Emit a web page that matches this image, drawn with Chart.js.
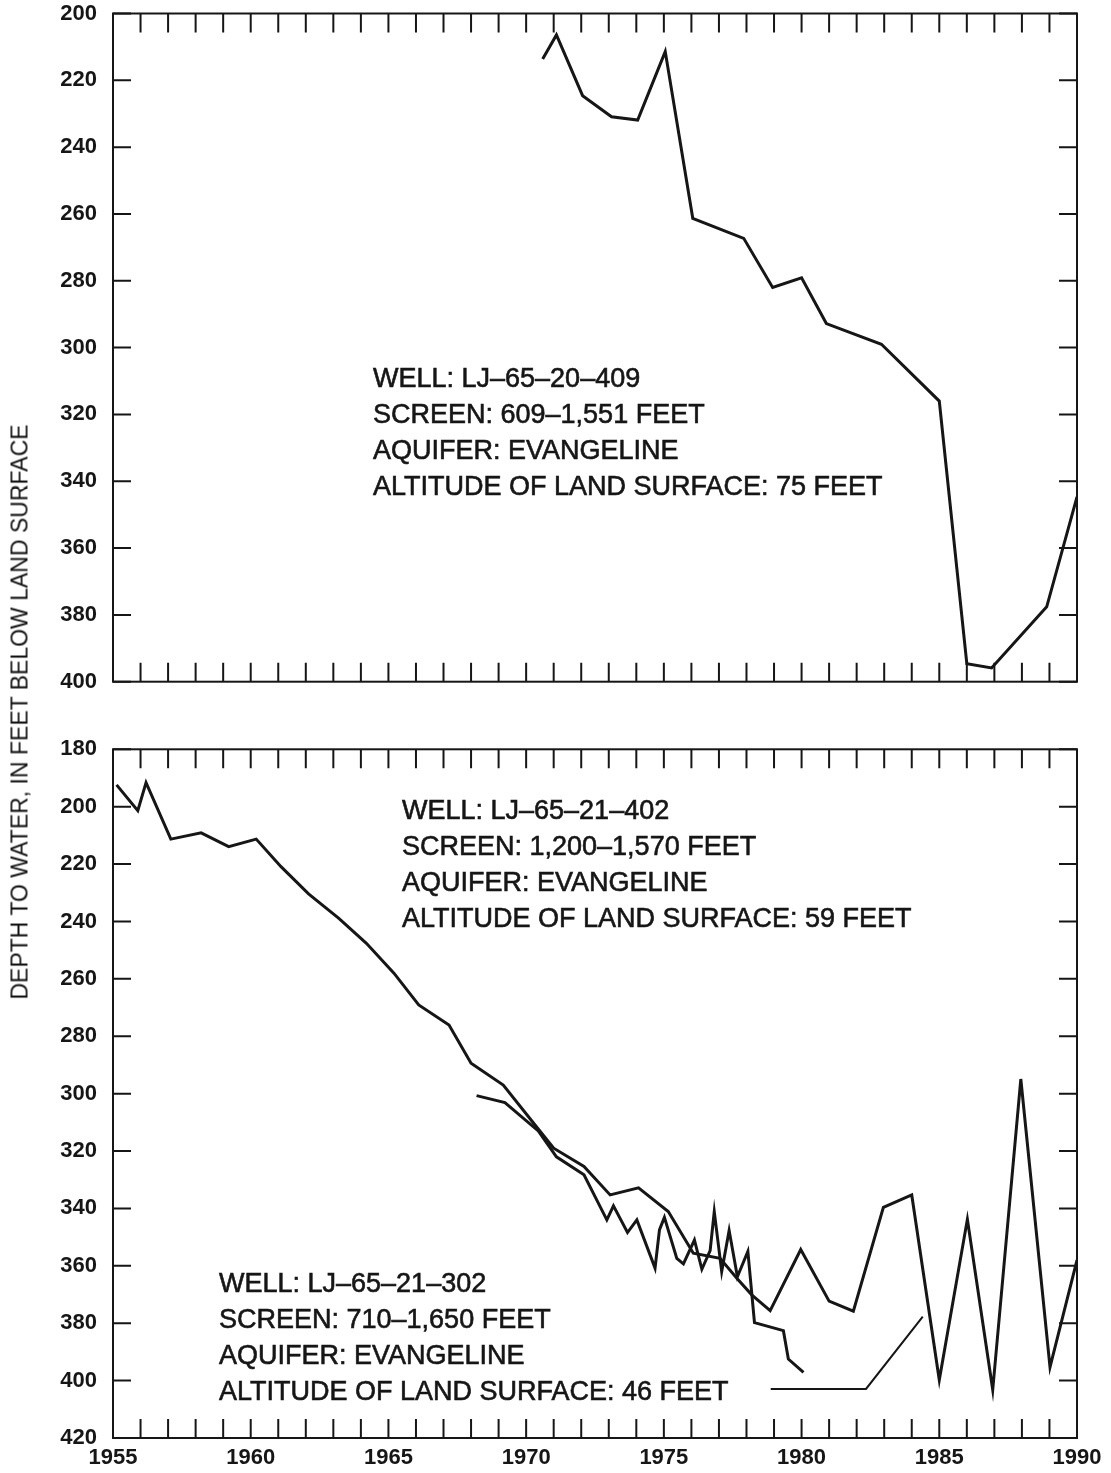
<!DOCTYPE html>
<html>
<head>
<meta charset="utf-8">
<script src="https://cdn.jsdelivr.net/npm/chart.js@4.4.1/dist/chart.umd.min.js"></script>
<style>
  html, body { margin: 0; padding: 0; background: #fff; }
  body { width: 1111px; height: 1473px; position: relative; overflow: hidden; }
  canvas { position: absolute; left: 0; }
  #topChart { top: -20px; }
  #bottomChart { top: 700px; }
  #ytitle {
    position: absolute; left: 20px; top: 712px;
    transform: translate(-50%, -50%) rotate(-90deg);
    white-space: nowrap; font: 23px "Liberation Sans", Arial, sans-serif; color: #111;
  }
</style>
</head>
<body>
<canvas id="topChart" width="1111" height="740"></canvas>
<canvas id="bottomChart" width="1111" height="773"></canvas>
<div id="ytitle">DEPTH TO WATER, IN FEET BELOW LAND SURFACE</div>
<script>
// well LJ-65-20-409 (upper panel)
var well409Years = [1970.6, 1971.1, 1972.05, 1973.1, 1974.05, 1975.05, 1976.05, 1977.9, 1978.95, 1980.0, 1980.9, 1982.9, 1985.0, 1986.0, 1986.9, 1988.9, 1990.0];
var well409Depth = [213.6, 206.4, 224.6, 230.9, 231.9, 211.4, 261.3, 267.3, 282.0, 279.1, 292.8, 299.0, 316.0, 394.6, 395.9, 377.6, 344.7];

// well LJ-65-21-402 (lower panel, long record)
var well402Years = [1955.13, 1955.9, 1956.2, 1957.1, 1958.2, 1959.2, 1960.2, 1961.1, 1962.1, 1963.2, 1964.2, 1965.2, 1966.1, 1967.2, 1968.0, 1969.17, 1970.44, 1971.0, 1972.1, 1973.05, 1974.08, 1975.16, 1976.07, 1977.04, 1977.65, 1978.19, 1978.86, 1979.97, 1981.0, 1981.88, 1982.97, 1984.0, 1985.0, 1986.02, 1986.94, 1987.96, 1989.02, 1990.0];
var well402Depth = [192.4, 201.4, 191.6, 211.3, 209.1, 213.9, 211.3, 220.9, 230.4, 238.9, 247.6, 258.0, 269.1, 276.1, 289.4, 297.0, 312.3, 319.0, 325.4, 335.3, 332.8, 341.1, 355.6, 357.4, 364.3, 370.1, 375.6, 354.3, 372.3, 375.8, 339.6, 335.3, 399.8, 343.8, 403.2, 294.9, 395.3, 358.0];

// well LJ-65-21-302 (lower panel, 1968-80)
var well302Years = [1968.2, 1969.23, 1970.44, 1971.1, 1972.1, 1972.93, 1973.17, 1973.68, 1974.02, 1974.68, 1974.84, 1975.02, 1975.47, 1975.71, 1976.11, 1976.38, 1976.68, 1976.83, 1977.1, 1977.37, 1977.67, 1978.05, 1978.29, 1979.34, 1979.52, 1980.07];
var well302Depth = [300.7, 303.1, 313.0, 322.0, 328.3, 344.0, 339.1, 348.4, 344.0, 360.8, 347.5, 343.1, 357.4, 359.3, 351.0, 361.2, 354.7, 341.1, 362.0, 347.7, 363.8, 355.0, 379.8, 382.6, 392.5, 397.1];

// leader line from the 302 label
var leaderYears = [1978.88, 1982.34, 1984.4];
var leaderDepth = [402.9, 402.9, 377.7];

var note409 = ['WELL: LJ\u201365\u201320\u2013409', 'SCREEN: 609\u20131,551 FEET', 'AQUIFER: EVANGELINE', 'ALTITUDE OF LAND SURFACE: 75 FEET'];
var note402 = ['WELL: LJ\u201365\u201321\u2013402', 'SCREEN: 1,200\u20131,570 FEET', 'AQUIFER: EVANGELINE', 'ALTITUDE OF LAND SURFACE: 59 FEET'];
var note302 = ['WELL: LJ\u201365\u201321\u2013302', 'SCREEN: 710\u20131,650 FEET', 'AQUIFER: EVANGELINE', 'ALTITUDE OF LAND SURFACE: 46 FEET'];

var INK = '#161616';
var FONT = '"Liberation Sans", Arial, sans-serif';

function toPoints(xs, ys) {
    var pts = [];
    for (var i = 0; i < xs.length; i++) {
        pts.push({x: xs[i], y: ys[i]});
    }
    return pts;
}

function lineSet(xs, ys, width) {
    return {
        data: toPoints(xs, ys),
        borderColor: INK,
        borderWidth: width,
        pointRadius: 0,
        tension: 0,
        fill: false,
        borderJoinStyle: 'miter'
    };
}

// frame with inward tick marks on all four sides, plus the well notes
var frameTicks = {
    id: 'frameTicks',
    afterDatasetsDraw: function(chart, args, opts) {
        var ctx = chart.ctx;
        var a = chart.chartArea;
        var x = chart.scales.x, y = chart.scales.y;
        ctx.save();
        ctx.strokeStyle = INK;
        ctx.lineWidth = 2;
        ctx.strokeRect(a.left, a.top, a.right - a.left, a.bottom - a.top);
        ctx.beginPath();
        for (var yr = x.min + 1; yr < x.max; yr++) {
            var px = x.getPixelForValue(yr);
            ctx.moveTo(px, a.bottom); ctx.lineTo(px, a.bottom - 19);
            ctx.moveTo(px, a.top); ctx.lineTo(px, a.top + 19);
        }
        y.ticks.forEach(function(t) {
            var py = y.getPixelForValue(t.value);
            ctx.moveTo(a.left, py); ctx.lineTo(a.left + 18, py);
            ctx.moveTo(a.right, py); ctx.lineTo(a.right - 18, py);
        });
        ctx.stroke();

        // notes, slightly stroked to match the heavier print
        ctx.fillStyle = INK;
        ctx.lineWidth = 0.6;
        ctx.font = '27px ' + FONT;
        ctx.textBaseline = 'middle';
        ctx.textAlign = 'left';
        (opts.notes || []).forEach(function(n) {
            n.lines.forEach(function(s, i) {
                ctx.fillText(s, n.left, n.top + i * 36);
                ctx.strokeText(s, n.left, n.top + i * 36);
            });
        });
        ctx.restore();
    }
};

function fixWidth(w) { return function(scale) { scale.width = w; }; }
function fixHeight(h) { return function(scale) { scale.height = h; }; }

var tickFont = {family: FONT, size: 22, weight: 'bold'};

new Chart(document.getElementById('topChart'), {
    type: 'line',
    data: { datasets: [lineSet(well409Years, well409Depth, 3)] },
    options: {
        responsive: false,
        animation: false,
        layout: { padding: {top: 33.5, right: 34, bottom: 38.3, left: 0} },
        plugins: {
            legend: {display: false},
            tooltip: {enabled: false},
            frameTicks: { notes: [{lines: note409, left: 373, top: 400}] }
        },
        scales: {
            x: { type: 'linear', min: 1955, max: 1990, display: false },
            y: {
                reverse: true, min: 200, max: 400,
                afterFit: fixWidth(113),
                grid: {display: false, drawTicks: false},
                border: {display: false},
                ticks: {stepSize: 20, padding: 16, color: INK, font: tickFont}
            }
        }
    },
    plugins: [frameTicks]
});

new Chart(document.getElementById('bottomChart'), {
    type: 'line',
    data: { datasets: [
        lineSet(well402Years, well402Depth, 3),
        lineSet(well302Years, well302Depth, 3),
        lineSet(leaderYears, leaderDepth, 2)
    ] },
    options: {
        responsive: false,
        animation: false,
        layout: { padding: {top: 49.3, right: 34, bottom: 0, left: 0} },
        plugins: {
            legend: {display: false},
            tooltip: {enabled: false},
            frameTicks: { notes: [
                {lines: note402, left: 402, top: 112},
                {lines: note302, left: 219, top: 585}
            ] }
        },
        scales: {
            x: {
                type: 'linear', min: 1955, max: 1990,
                afterFit: fixHeight(35),
                grid: {display: false, drawTicks: false},
                border: {display: false},
                ticks: {stepSize: 5, padding: 7, color: INK, font: tickFont, maxRotation: 0,
                        callback: function(v) { return String(v); }}
            },
            y: {
                reverse: true, min: 180, max: 420,
                afterFit: fixWidth(113),
                grid: {display: false, drawTicks: false},
                border: {display: false},
                ticks: {stepSize: 20, padding: 16, color: INK, font: tickFont}
            }
        }
    },
    plugins: [frameTicks]
});
</script>
</body>
</html>
